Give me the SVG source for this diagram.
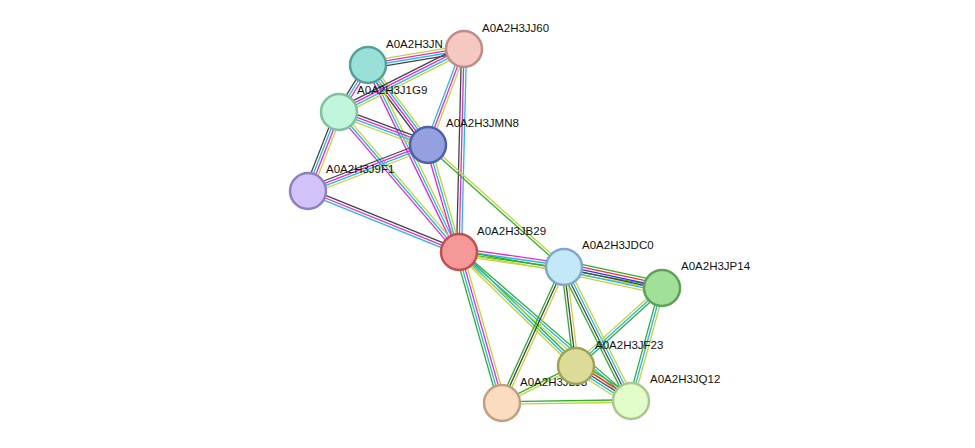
<svg xmlns="http://www.w3.org/2000/svg" width="975" height="448" viewBox="0 0 975 448">
<style>
line{stroke-width:1.3;fill:none}
.y{stroke:#c2d43a}.m{stroke:#e028e0}.c{stroke:#28b8e0}.k{stroke:#444}.g{stroke:#2eb02e}.r{stroke:#f03030}.b{stroke:#3030f0}
circle{stroke-width:2.5}
text{font-family:"Liberation Sans",Arial,sans-serif;font-size:11.5px;fill:#111}
</style>
<rect width="975" height="448" fill="#fff"/>
<g id="connectors">
<g transform="translate(368,65) rotate(-9.46)"><line class="y" x2="97.3" y1="-3.75" y2="-3.75"/><line class="m" x2="97.3" y1="-1.25" y2="-1.25"/><line class="c" x2="97.3" y1="1.25" y2="1.25"/><line class="k" x2="97.3" y1="3.75" y2="3.75"/></g>
<g transform="translate(368,65) rotate(121.7)"><line class="m" x2="55.2" y1="-2.5" y2="-2.5"/><line class="c" x2="55.2"/><line class="k" x2="55.2" y1="2.5" y2="2.5"/></g>
<g transform="translate(368,65) rotate(53.13)"><line class="y" x2="100" y1="-3.75" y2="-3.75"/><line class="c" x2="100" y1="-1.25" y2="-1.25"/><line class="m" x2="100" y1="1.25" y2="1.25"/><line class="k" x2="100" y1="3.75" y2="3.75"/></g>
<g transform="translate(368,65) rotate(64.05)"><line class="y" x2="208" y1="-2.5" y2="-2.5"/><line class="c" x2="208"/><line class="m" x2="208" y1="2.5" y2="2.5"/></g>
<g transform="translate(464,49) rotate(153.25)"><line class="y" x2="140" y1="-3.75" y2="-3.75"/><line class="c" x2="140" y1="-1.25" y2="-1.25"/><line class="m" x2="140" y1="1.25" y2="1.25"/><line class="k" x2="140" y1="3.75" y2="3.75"/></g>
<g transform="translate(464,49) rotate(110.56)"><line class="y" x2="102.5" y1="-2.5" y2="-2.5"/><line class="m" x2="102.5"/><line class="c" x2="102.5" y1="2.5" y2="2.5"/></g>
<g transform="translate(464,49) rotate(91.41)"><line class="k" x2="203.1" y1="2.5" y2="2.5"/><line class="m" x2="203.1"/><line class="c" x2="203.1" y1="-2.5" y2="-2.5"/></g>
<g transform="translate(339,112) rotate(20.34)"><line class="y" x2="94.9" y1="3.75" y2="3.75"/><line class="c" x2="94.9" y1="1.25" y2="1.25"/><line class="m" x2="94.9" y1="-1.25" y2="-1.25"/><line class="k" x2="94.9" y1="-3.75" y2="-3.75"/></g>
<g transform="translate(339,112) rotate(111.42)"><line class="y" x2="84.9" y1="-3.75" y2="-3.75"/><line class="m" x2="84.9" y1="-1.25" y2="-1.25"/><line class="c" x2="84.9" y1="1.25" y2="1.25"/><line class="k" x2="84.9" y1="3.75" y2="3.75"/></g>
<g transform="translate(339,112) rotate(49.4)"><line class="y" x2="184.4" y1="-2.5" y2="-2.5"/><line class="c" x2="184.4"/><line class="m" x2="184.4" y1="2.5" y2="2.5"/></g>
<g transform="translate(428,145) rotate(159.03)"><line class="y" x2="128.5" y1="-3.75" y2="-3.75"/><line class="c" x2="128.5" y1="-1.25" y2="-1.25"/><line class="m" x2="128.5" y1="1.25" y2="1.25"/><line class="k" x2="128.5" y1="3.75" y2="3.75"/></g>
<g transform="translate(428,145) rotate(73.84)"><line class="y" x2="111.4" y1="-2.5" y2="-2.5"/><line class="c" x2="111.4"/><line class="m" x2="111.4" y1="2.5" y2="2.5"/></g>
<g transform="translate(428,145) rotate(41.9)"><line class="y" x2="182.7" y1="-1.25" y2="-1.25"/><line class="g" x2="182.7" y1="1.25" y2="1.25"/></g>
<g transform="translate(308,191) rotate(22)"><line class="c" x2="162.9" y1="2.5" y2="2.5"/><line class="m" x2="162.9"/><line class="k" x2="162.9" y1="-2.5" y2="-2.5"/></g>
<g transform="translate(459,252) rotate(8.13)"><line class="y" x2="106.1" y1="3.75" y2="3.75"/><line class="g" x2="106.1" y1="1.25" y2="1.25"/><line class="c" x2="106.1" y1="-1.25" y2="-1.25"/><line class="m" x2="106.1" y1="-3.75" y2="-3.75"/></g>
<g transform="translate(459,252) rotate(10.06)"><line class="y" x2="206.2" y1="1.25" y2="1.25"/><line class="g" x2="206.2" y1="-1.25" y2="-1.25"/></g>
<g transform="translate(459,252) rotate(44.26)"><line class="y" x2="163.4" y1="2.5" y2="2.5"/><line class="g" x2="163.4" y1="-2.5" y2="-2.5"/><line class="c" x2="163.4"/></g>
<g transform="translate(459,252) rotate(40.9)"><line class="y" x2="227.6" y1="2.5" y2="2.5"/><line class="g" x2="227.6" y1="-2.5" y2="-2.5"/><line class="c" x2="227.6"/></g>
<g transform="translate(459,252) rotate(74.1)"><line class="y" x2="157" y1="-3.75" y2="-3.75"/><line class="c" x2="157" y1="1.25" y2="1.25"/><line class="m" x2="157" y1="-1.25" y2="-1.25"/><line class="g" x2="157" y1="3.75" y2="3.75"/></g>
<g transform="translate(564,267) rotate(12.09)"><line class="g" x2="100.2" y1="-6.25" y2="-6.25"/><line class="r" x2="100.2" y1="-3.75" y2="-3.75"/><line class="b" x2="100.2" y1="-1.25" y2="-1.25"/><line class="k" x2="100.2" y1="1.25" y2="1.25"/><line class="c" x2="100.2" y1="3.75" y2="3.75"/><line class="y" x2="100.2" y1="6.25" y2="6.25"/></g>
<g transform="translate(564,267) rotate(83.09)"><line class="y" x2="99.7" y1="-2.5" y2="-2.5"/><line class="k" x2="99.7"/><line class="g" x2="99.7" y1="2.5" y2="2.5"/></g>
<g transform="translate(564,267) rotate(63.43)"><line class="y" x2="149.8" y1="-3.75" y2="-3.75"/><line class="c" x2="149.8" y1="-1.25" y2="-1.25"/><line class="k" x2="149.8" y1="1.25" y2="1.25"/><line class="g" x2="149.8" y1="3.75" y2="3.75"/></g>
<g transform="translate(564,267) rotate(114.5)"><line class="y" x2="149.5" y1="-2.5" y2="-2.5"/><line class="k" x2="149.5"/><line class="g" x2="149.5" y1="2.5" y2="2.5"/></g>
<g transform="translate(662,288) rotate(137.8)"><line class="y" x2="116.1" y1="2.5" y2="2.5"/><line class="c" x2="116.1"/><line class="g" x2="116.1" y1="-2.5" y2="-2.5"/></g>
<g transform="translate(662,288) rotate(105.3)"><line class="y" x2="117.2" y1="-2.5" y2="-2.5"/><line class="c" x2="117.2"/><line class="g" x2="117.2" y1="2.5" y2="2.5"/></g>
<g transform="translate(576,366) rotate(32.47)"><line class="y" x2="65.2" y1="5" y2="5"/><line class="c" x2="65.2" y1="2.5" y2="2.5"/><line class="k" x2="65.2"/><line class="r" x2="65.2" y1="-2.5" y2="-2.5"/><line class="g" x2="65.2" y1="-5" y2="-5"/></g>
<g transform="translate(576,366) rotate(153.4)"><line class="y" x2="82.7" y1="-1.25" y2="-1.25"/><line class="g" x2="82.7" y1="1.25" y2="1.25"/></g>
<g transform="translate(502,403) rotate(-0.89)"><line class="y" x2="129" y1="1.25" y2="1.25"/><line class="g" x2="129" y1="-1.25" y2="-1.25"/></g>
</g>
<g id="labels-under">
<text x="386" y="48">A0A2H3JN</text>
<text x="520" y="386">A0A2H3JLJ3</text>
</g>
<g id="n-JN"><circle cx="368" cy="65" r="18" fill="#99e0d8" stroke="#55a098"/></g>
<g id="n-JJ60"><circle cx="464" cy="49" r="18" fill="#f6c8c2" stroke="#c08c88"/><text x="482" y="32">A0A2H3JJ60</text></g>
<g id="n-J1G9"><circle cx="339" cy="112" r="18" fill="#c2f6dc" stroke="#80c0a0"/><text x="357" y="94">A0A2H3J1G9</text></g>
<g id="n-JMN8"><circle cx="428" cy="145" r="18" fill="#95a0e0" stroke="#5060a8"/><text x="446" y="127">A0A2H3JMN8</text></g>
<g id="n-J9F1"><circle cx="308" cy="191" r="18" fill="#d2c2fa" stroke="#9080c0"/><text x="326" y="173">A0A2H3J9F1</text></g>
<g id="n-JB29"><circle cx="459" cy="252" r="18" fill="#f59898" stroke="#c05050"/><text x="477" y="235">A0A2H3JB29</text></g>
<g id="n-JDC0"><circle cx="564" cy="267" r="18" fill="#c2e8fa" stroke="#80a8c8"/><text x="582" y="249">A0A2H3JDC0</text></g>
<g id="n-JP14"><circle cx="662" cy="288" r="18" fill="#a0e098" stroke="#60a058"/><text x="681" y="270">A0A2H3JP14</text></g>
<g id="n-K"><circle cx="502" cy="403" r="18" fill="#fcdcc0" stroke="#c0a080"/></g>
<g id="n-JF23"><circle cx="576" cy="366" r="18" fill="#dcdc98" stroke="#a0a058"/><text x="595" y="349">A0A2H3JF23</text></g>
<g id="n-JQ12"><circle cx="631" cy="401" r="18" fill="#e2fcca" stroke="#a8c890"/><text x="650" y="383">A0A2H3JQ12</text></g>
</svg>
